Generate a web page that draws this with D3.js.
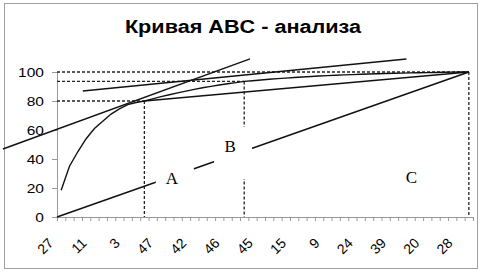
<!DOCTYPE html>
<html>
<head>
<meta charset="utf-8">
<script src="https://cdn.jsdelivr.net/npm/d3@7"></script>
<style>
  html, body { margin: 0; padding: 0; background: #fff; }
  svg { display: block; }
</style>
</head>
<body>
<svg id="chart" width="482" height="273"></svg>
<script>
// cumulative share, %, for the 50 items sorted by value
const cumShare = [18.5, 35, 45, 54, 61, 66, 71, 74.5, 77.5, 79, 80,
  81.5, 83, 84.3, 85.6, 86.8, 88, 89.1, 90.1, 91, 91.9, 92.7, 93.5,
  94, 94.5, 95, 95.4, 95.8, 96.2, 96.6, 96.9, 97.2, 97.5, 97.8, 98, 98.2,
  98.4, 98.6, 98.8, 99, 99.1, 99.25, 99.4, 99.5, 99.6, 99.7, 99.8, 99.9, 99.95, 100];
// only every 4th item number is printed under the axis
const tickLabels = ["27", "11", "3", "47", "42", "46", "45", "15", "9", "24", "39", "20", "28"];
const yTicks = [0, 20, 40, 60, 80, 100];

// group borders: [item index, cumulative %]
const borders = [[10, 80], [22, 93.5], [49, 100]];
// hand drawn lines, in [item index, %]
const freeLines = [
  [[-7.0, 46.9], [22.7, 109]],
  [[2.6, 86.9], [41.5, 109]],
  [[10, 80], [49, 100]],
  [[-0.5, 0], [49, 100]]
];
const groupLabels = [["A", 13.3, 26.9], ["B", 20.3, 49], ["C", 42.1, 27.8]];

const font = "Arial, 'Liberation Sans', sans-serif";
const stretch = 1.15; // the picture is a bit wider than tall

const svg = d3.select("#chart");
const n = cumShare.length;

// frame
svg.append("rect")
  .attr("x", 4.5).attr("y", 3.5)
  .attr("width", 473).attr("height", 265)
  .attr("fill", "none").attr("stroke", "#a0a0a0");

svg.append("text")
  .attr("transform", `translate(243,33) scale(1.17,1)`)
  .attr("text-anchor", "middle")
  .attr("font-family", font)
  .attr("font-weight", "bold").attr("font-size", 18.5)
  .text("Кривая ABC - анализа");

const x0 = 57, x1 = 473;
const xi = d3.scaleLinear().domain([-0.5, n - 0.5]).range([x0, x1]);
const y = d3.scaleLinear().domain([0, 100]).range([217, 72]);

// y axis
const gy = svg.append("g")
  .attr("transform", `translate(${x0},0)`)
  .call(d3.axisLeft(y).tickValues(yTicks).tickSize(5).tickPadding(8));
gy.select(".domain").attr("stroke", "#999");
gy.selectAll(".tick line").attr("stroke", "#999");
gy.selectAll(".tick text")
  .attr("x", null)
  .attr("transform", `translate(-13,0) scale(${stretch},1)`)
  .attr("font-family", font)
  .attr("font-size", 13.5).attr("fill", "#000");

// x axis: ticks between items
const gx = svg.append("g")
  .attr("transform", `translate(0,${y(0)})`)
  .call(d3.axisBottom(xi).tickValues(d3.range(n + 1).map(i => i - 0.5))
    .tickSize(4).tickSizeOuter(0).tickFormat(""));
gx.select(".domain").attr("stroke", "#999");
gx.selectAll(".tick line").attr("stroke", "#999");

svg.append("g").selectAll("text")
  .data(tickLabels)
  .join("text")
  .attr("transform", (d, i) => `translate(${xi(i * 4) - 7},244) rotate(-45)`)
  .attr("text-anchor", "end")
  .attr("font-family", font)
  .attr("font-size", 14)
  .text(d => d);

// dashed guides
const guides = svg.append("g")
  .attr("stroke", "#222").attr("stroke-width", 1.3)
  .attr("stroke-dasharray", "3,2").attr("fill", "none");
borders.forEach(([i, v]) => {
  guides.append("line")
    .attr("x1", x0).attr("x2", xi(i)).attr("y1", y(v)).attr("y2", y(v));
  guides.append("line")
    .attr("x1", xi(i)).attr("x2", xi(i)).attr("y1", y(v)).attr("y2", y(0));
});

// hand drawn lines
svg.append("g").selectAll("line")
  .data(freeLines)
  .join("line")
  .attr("x1", d => xi(d[0][0])).attr("y1", d => y(d[0][1]))
  .attr("x2", d => xi(d[1][0])).attr("y2", d => y(d[1][1]))
  .attr("stroke", "#111").attr("stroke-width", 1.4);

// the ABC curve
svg.append("path")
  .datum(cumShare)
  .attr("fill", "none").attr("stroke", "#111").attr("stroke-width", 1.4)
  .attr("d", d3.line().x((d, i) => xi(i)).y(d => y(d)));

// group labels sit in white boxes
const gl = svg.append("g").selectAll("g")
  .data(groupLabels)
  .join("g")
  .attr("transform", d => `translate(${xi(d[1])},${y(d[2])})`);
gl.filter(d => d[0] !== "C").append("rect")
  .attr("x", -16).attr("y", -19).attr("width", 38).attr("height", 52)
  .attr("fill", "#fff");
gl.append("text")
  .attr("text-anchor", "middle").attr("dy", "0.35em")
  .attr("font-family", "'Liberation Serif', 'Times New Roman', serif")
  .attr("font-size", 17)
  .text(d => d[0]);
</script>
</body>
</html>
